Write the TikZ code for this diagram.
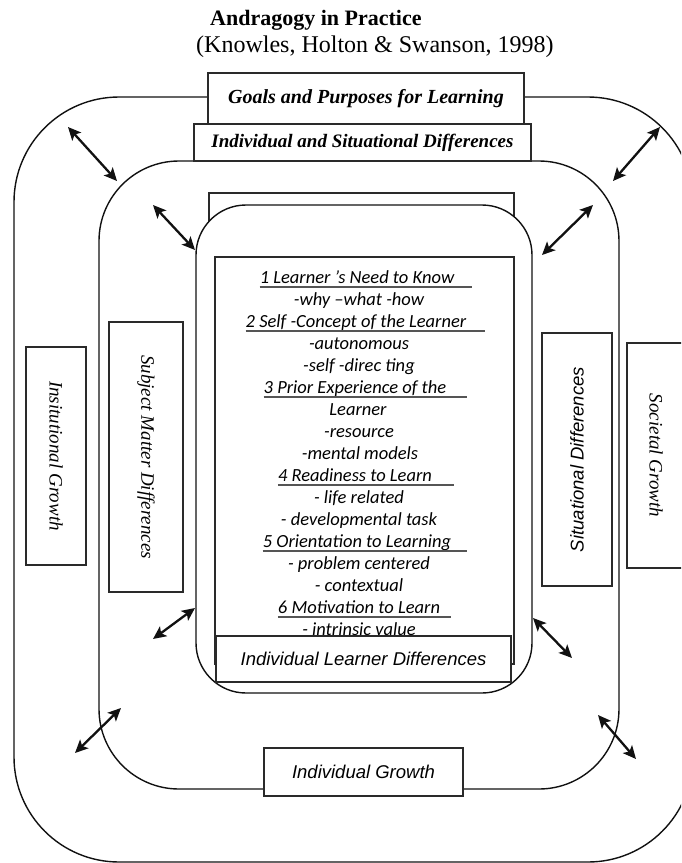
\documentclass[tikz,border=0pt]{standalone}
\usepackage{fontspec}
\setmainfont{Liberation Serif}
\newfontfamily\arialfont{Liberation Sans}
\newfontfamily\calibrifont{Carlito}
\usetikzlibrary{arrows.meta}
\definecolor{linedark}{HTML}{111111}
\definecolor{boxgrey}{HTML}{2A2A2A}
\definecolor{ulgrey}{HTML}{555555}

\begin{document}
\begin{tikzpicture}[x=1pt, y=-1pt, >={Stealth[length=13pt,width=12pt,inset=3pt]},
    ring/.style={draw=linedark, line width=1.4pt},
    box/.style={draw=boxgrey, line width=1.8pt, fill=white, inner sep=0pt},
    twoway/.style={<->, line width=2.3pt, linedark},
    item/.style={font=\calibrifont\itshape\fontsize{18.5}{22}\selectfont, anchor=base, inner sep=0pt},
    uline/.style={draw=ulgrey, line width=1.2pt},
    serifit/.style={font=\itshape\fontsize{19}{22}\selectfont},
    sansit/.style={font=\arialfont\itshape\fontsize{18.5}{22}\selectfont}]

    \useasboundingbox (0,0) rectangle (681,863);
    \clip (0,0) rectangle (681,863);

    % Title
    \node[anchor=base west, inner sep=0pt, font=\bfseries\fontsize{22}{26}\selectfont] (title) at (210,25) {Andragogy in Practice};
    \node[anchor=base west, inner sep=0pt, font=\fontsize{24}{28}\selectfont] (source) at (196,52) {(Knowles, Holton \& Swanson, 1998)};

    % Rounded frames
    \draw[ring, rounded corners=105pt] (14,97) rectangle (693,862);
    \draw[ring, rounded corners=80pt] (99,161) rectangle (619,789);

    % Two-way arrows
    \coordinate (otl-a) at (68,127);  \coordinate (otl-b) at (117,181);
    \coordinate (otr-a) at (613,181); \coordinate (otr-b) at (660,127);
    \coordinate (itl-a) at (153,205); \coordinate (itl-b) at (195,250);
    \coordinate (itr-a) at (542,255); \coordinate (itr-b) at (593,205);
    \coordinate (ibl-a) at (153,639); \coordinate (ibl-b) at (195,608);
    \coordinate (ibr-a) at (533,618); \coordinate (ibr-b) at (572,658);
    \coordinate (obl-a) at (75,753);  \coordinate (obl-b) at (121,708);
    \coordinate (obr-a) at (598,715); \coordinate (obr-b) at (636,759);
    \draw[twoway] (otl-a) -- (otl-b);
    \draw[twoway] (otr-a) -- (otr-b);
    \draw[twoway] (itl-a) -- (itl-b);
    \draw[twoway] (itr-a) -- (itr-b);
    \draw[twoway] (ibl-a) -- (ibl-b);
    \draw[twoway] (ibr-a) -- (ibr-b);
    \draw[twoway] (obl-a) -- (obl-b);
    \draw[twoway] (obr-a) -- (obr-b);

    % Core frame
    \draw[box, fill=none] (209,193) rectangle (514,260);
    \draw[ring, fill=white, rounded corners=50pt] (196,205) rectangle (532,693);
    \node[box, minimum width=299pt, minimum height=407pt] (core) at (364.5,460.5) {};

    % Principles
    \node[item] (h1) at (357,283) {1 Learner ’s Need to Know};
    \node[item] (l1) at (359,305) {-why –what -how};
    \node[item] (h2) at (356,327) {2 Self -Concept of the Learner};
    \node[item] (l2) at (359,349) {-autonomous};
    \node[item] (l3) at (359,371) {-self -direc ting};
    \node[item] (h3) at (355,393) {3 Prior Experience of the};
    \node[item] (l4) at (358,415) {Learner};
    \node[item] (l5) at (359,437) {-resource};
    \node[item] (l6) at (360,459) {-mental models};
    \node[item] (h4) at (355,481) {4 Readiness to Learn};
    \node[item] (l7) at (359,503) {- life related};
    \node[item] (l8) at (359,525) {- developmental task};
    \node[item] (h5) at (357,547) {5 Orientation to Learning};
    \node[item] (l9) at (359,569) {- problem centered};
    \node[item] (l10) at (359,591) {- contextual};
    \node[item] (h6) at (359,613) {6 Motivation to Learn};
    \node[item] (l11) at (359,635) {- intrinsic value};
    \draw[uline] ([yshift=-4pt]h1.base west) -- ([yshift=-4pt,xshift=18pt]h1.base east);
    \draw[uline] ([yshift=-4pt]h2.base west) -- ([yshift=-4pt,xshift=19pt]h2.base east);
    \draw[uline] ([yshift=-4pt]h3.base west) -- ([yshift=-4pt,xshift=21pt]h3.base east);
    \draw[uline] ([yshift=-4pt]h4.base west) -- ([yshift=-4pt,xshift=22pt]h4.base east);
    \draw[uline] ([yshift=-4pt]h5.base west) -- ([yshift=-4pt,xshift=16pt]h5.base east);
    \draw[uline] ([yshift=-4pt]h6.base west) -- ([yshift=-4pt,xshift=11pt]h6.base east);

    % Labelled boxes
    \node[box, minimum width=316pt, minimum height=51pt, font=\bfseries\itshape\fontsize{20}{24}\selectfont] (goals) at (366,98.5) {Goals and Purposes for Learning};
    \node[box, minimum width=337pt, minimum height=37pt, font=\bfseries\itshape\fontsize{19}{22}\selectfont] (situ-diff) at (362.5,142.5) {Individual and Situational Differences};
    \node[box, sansit, minimum width=295pt, minimum height=46pt] (learner) at (363.5,659) {Individual Learner Differences};
    \node[box, sansit, minimum width=199pt, minimum height=48pt] (indiv) at (363.5,772) {Individual Growth};
    \node[box, serifit, rotate=-90, minimum width=218pt, minimum height=60pt] (inst) at (56,456) {Insitutional Growth};
    \node[box, serifit, rotate=-90, minimum width=270pt, minimum height=74pt] (subject) at (146,457) {Subject Matter Differences};
    \node[box, sansit, rotate=90, minimum width=253pt, minimum height=70pt] (situ) at (577,459.5) {Situational Differences};
    \node[box, serifit, rotate=-90, minimum width=225pt, minimum height=58pt] (societal) at (656,455.5) {Societal Growth};

\end{tikzpicture}
\end{document}
